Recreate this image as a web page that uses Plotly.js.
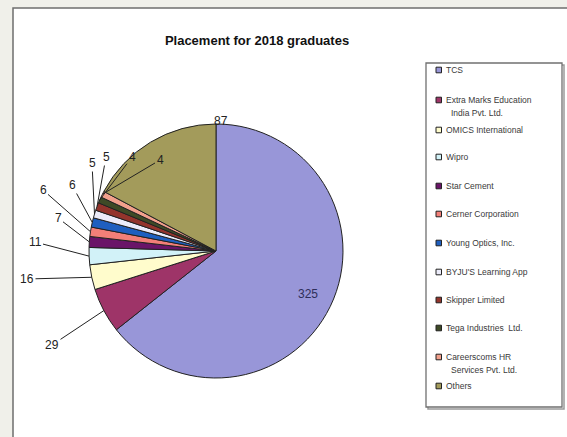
<!DOCTYPE html>
<html>
<head>
<meta charset="utf-8">
<script src="https://cdn.plot.ly/plotly-3.0.1.min.js"></script>
<style>html,body{margin:0;padding:0;background:#f0f0ea;}#chart{width:567px;height:437px;}</style>
</head>
<body>
<div id="chart"></div>
<script>
// ---- data ----
var companies = ["TCS", "Extra Marks Education<br>India Pvt. Ltd.", "OMICS International", "Wipro", "Star Cement",
  "Cerner Corporation", "Young Optics, Inc.", "BYJU'S Learning App", "Skipper Limited",
  "Tega Industries  Ltd.", "Careerscoms HR<br>Services Pvt. Ltd.", "Others"];
var placements = [325, 29, 16, 11, 7, 6, 6, 5, 5, 4, 4, 87];
var sliceColors = ["#9896d8", "#9e3468", "#fffccc", "#d2f2f8", "#6a1468", "#f27f78", "#1f5fbf",
  "#ececfa", "#93342c", "#3e4a26", "#f2a08c", "#a39b5b"];

// ---- layout constants (pixels) ----
var W = 567, H = 437;
var cx = 216, cy = 251, R = 127;
// label text positions (styling)
var labelPos = [[308, 303], [52, 345], [27, 279], [35, 242], [58, 218], [43, 190], [72, 185],
  [92, 163], [106, 157], [132, 157], [160, 160], [221, 112]];
var legendY = [70, 100, 130, 157, 186, 214, 243, 272, 300, 328, 357, 386];

function px(x) { return x / W; }
function py(y) { return 1 - y / H; }

var total = placements.reduce(function (a, b) { return a + b; }, 0);
var annotations = [];
var shapes = [];

// frame
shapes.push({type: 'rect', xref: 'paper', yref: 'paper', x0: px(13), x1: px(580), y0: py(8), y1: py(450),
  line: {color: '#6e6e6e', width: 1.5}, fillcolor: '#ffffff', layer: 'below'});
// legend box shadow + box
shapes.push({type: 'rect', xref: 'paper', yref: 'paper', x0: px(428), x1: px(564), y0: py(65), y1: py(409),
  line: {color: '#9a9a9a', width: 1.5}, fillcolor: 'rgba(0,0,0,0)', layer: 'below'});
shapes.push({type: 'rect', xref: 'paper', yref: 'paper', x0: px(426), x1: px(562), y0: py(63), y1: py(407),
  line: {color: '#707070', width: 1.3}, fillcolor: '#ffffff', layer: 'below'});

// pie value labels
var cum = 0;
placements.forEach(function (v, i) {
  var mid = (cum + v / 2) / total * 2 * Math.PI;
  cum += v;
  var tx = cx + R * Math.sin(mid), ty = cy - R * Math.cos(mid);
  var lp = labelPos[i];
  if (i === 0) {
    annotations.push({xref: 'paper', yref: 'paper', x: px(lp[0]), y: py(lp[1]), text: String(v),
      showarrow: false, font: {family: 'Liberation Sans, Arial', size: 12, color: '#2e2e5a'}});
  } else if (i === placements.length - 1) {
    annotations.push({xref: 'paper', yref: 'paper', x: px(lp[0]), y: py(lp[1]), text: String(v),
      showarrow: false, font: {family: 'Liberation Sans, Arial', size: 12, color: '#222'}});
  } else {
    annotations.push({xref: 'paper', yref: 'paper', x: px(tx), y: py(ty), ax: lp[0] - tx, ay: lp[1] - ty,
      axref: 'pixel', ayref: 'pixel', text: String(v), showarrow: true, arrowhead: 0, arrowwidth: 1,
      arrowcolor: '#222', standoff: 0,
      font: {family: 'Liberation Sans, Arial', size: 12, color: '#222'}});
  }
});

// legend (built from data arrays)
companies.forEach(function (name, i) {
  var y = legendY[i];
  shapes.push({type: 'rect', xref: 'paper', yref: 'paper', x0: px(436), x1: px(441.5), y0: py(y - 2.8), y1: py(y + 2.8),
    line: {color: '#222', width: 1}, fillcolor: sliceColors[i]});
  name.split('<br>').forEach(function (line, k) {
    annotations.push({xref: 'paper', yref: 'paper', x: px(k ? 449 : 444), y: py(y + k * 12.5), xanchor: 'left',
      yanchor: 'middle', text: line, showarrow: false,
      font: {family: 'Liberation Sans, Arial', size: 8.5, color: '#3a3a3a'}});
  });
});

var data = [{
  type: 'pie',
  labels: companies,
  values: placements,
  sort: false,
  direction: 'clockwise',
  rotation: 0,
  textinfo: 'none',
  hoverinfo: 'label+value',
  marker: {colors: sliceColors, line: {color: '#222', width: 1}},
  domain: {x: [px(cx - R), px(cx + R)], y: [py(cy + R), py(cy - R)]},
  showlegend: false
}];

var layout = {
  width: W, height: H,
  margin: {l: 0, r: 0, t: 0, b: 0},
  paper_bgcolor: '#f0f0ea',
  showlegend: false,
  title: {text: 'Placement for 2018 graduates', x: 257 / W, xanchor: 'center', y: py(40), yanchor: 'middle',
    font: {family: 'Liberation Sans, Arial', size: 13, color: '#111', weight: 'bold'}},
  shapes: shapes,
  annotations: annotations
};

Plotly.newPlot('chart', data, layout, {displayModeBar: false, staticPlot: true});
</script>
</body>
</html>
